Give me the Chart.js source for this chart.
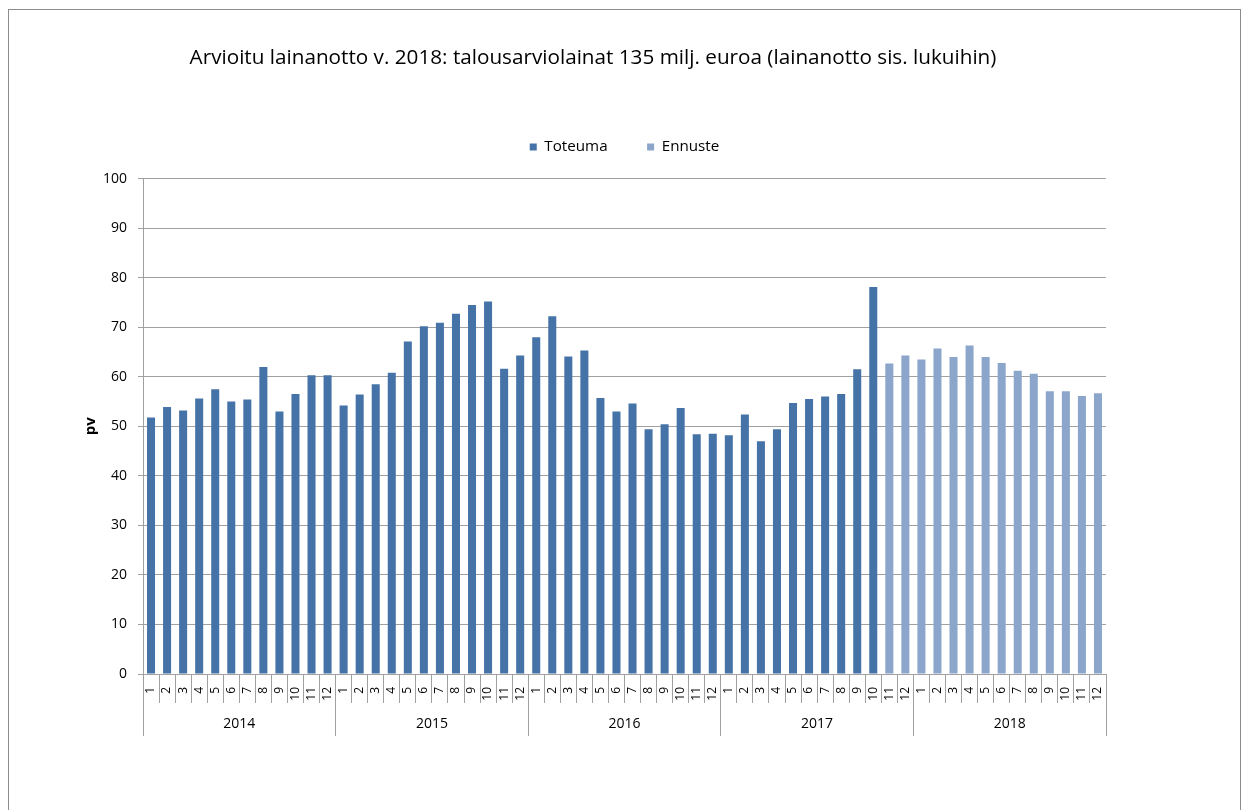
<!DOCTYPE html>
<html>
<head>
<meta charset="utf-8">
<script src="https://cdn.jsdelivr.net/npm/chart.js@4"></script>
<style>
  body { margin: 0; background: #fff; }
  #wrap { position: relative; width: 1241px; height: 810px; overflow: hidden; }
  #frame { position: absolute; left: 8px; top: 9px; width: 1231px; height: 830px; border: 1px solid #8c8c8c; }
</style>
</head>
<body>
<div id="wrap">
  <div id="frame"></div>
  <canvas id="myChart"></canvas>
</div>
<script>
// chart data
const years = ['2014', '2015', '2016', '2017', '2018'];
const months = ['1', '2', '3', '4', '5', '6', '7', '8', '9', '10', '11', '12'];

// Toteuma: 2014/1 .. 2017/10
const toteuma = [
  51.8, 53.9, 53.2, 55.6, 57.5, 55.0, 55.4, 62.0, 53.0, 56.5, 60.3, 60.3,
  54.2, 56.4, 58.5, 60.8, 67.1, 70.2, 70.9, 72.7, 74.5, 75.2, 61.6, 64.3,
  68.0, 72.2, 64.1, 65.3, 55.7, 53.0, 54.6, 49.4, 50.4, 53.7, 48.4, 48.5,
  48.2, 52.4, 47.0, 49.4, 54.7, 55.5, 56.0, 56.5, 61.5, 78.1
];
// Ennuste: 2017/11 .. 2018/12
const ennuste = [
  62.7, 64.3,
  63.5, 65.7, 64.0, 66.3, 64.0, 62.8, 61.2, 60.6, 57.1, 57.1, 56.1, 56.7
];

const yTicks = { min: 0, max: 100, step: 10 };

const xlabels = years.flatMap(() => months);
const toteumaData = toteuma.concat(new Array(xlabels.length - toteuma.length).fill(null));
const ennusteData = new Array(xlabels.length - ennuste.length).fill(null).concat(ennuste);

const gridColor = '#a0a0a0';
Chart.defaults.font.family = '"Open Sans"';
Chart.defaults.color = '#000';

// extra room under the legend
const legendMargin = {
  id: 'legendMargin',
  beforeInit(chart) {
    const fit = chart.legend.fit;
    chart.legend.fit = function () {
      fit.bind(chart.legend)();
      this.height += 14;
    };
  }
};

const ctx = document.getElementById('myChart').getContext('2d');
const myChart = new Chart(ctx, {
  type: 'bar',
  data: {
    labels: xlabels,
    datasets: [{
      label: 'Toteuma',
      data: toteumaData,
      backgroundColor: '#4673a7',
      categoryPercentage: 1,
      barPercentage: 0.5
    }, {
      label: 'Ennuste',
      data: ennusteData,
      backgroundColor: '#8ca6cb',
      categoryPercentage: 1,
      barPercentage: 0.5
    }]
  },
  plugins: [legendMargin],
  options: {
    responsive: true,
    maintainAspectRatio: false,
    animation: false,
    layout: { padding: { left: 80, right: 135, top: 0, bottom: 67 } },
    plugins: {
      title: {
        display: true,
        text: 'Arvioitu lainanotto v. 2018: talousarviolainat 135 milj. euroa (lainanotto sis. lukuihin)',
        font: { size: 20.7, weight: 'normal' },
        color: '#000',
        padding: { top: 45.6, bottom: 29.5 }
      },
      legend: {
        position: 'top',
        fullSize: false,
        labels: { boxWidth: 7, boxHeight: 7, padding: 39.5, font: { size: 15.2 }, color: '#000' }
      },
      tooltip: { enabled: false }
    },
    scales: {
      x: {
        stacked: true,
        offset: true,
        grid: { offset: true, drawOnChartArea: false, tickLength: 29, color: gridColor },
        border: { color: gridColor },
        ticks: { autoSkip: false, minRotation: 90, maxRotation: 90, padding: -16, font: { size: 12 } },
        afterFit: (scale) => { scale.height = 29; }
      },
      x2: {
        type: 'category',
        labels: years,
        position: 'bottom',
        weight: 1,
        offset: true,
        grid: { offset: true, drawOnChartArea: false, tickLength: 33, color: gridColor },
        border: { display: false },
        ticks: { autoSkip: false, maxRotation: 0, padding: -20, font: { size: 14 } },
        afterFit: (scale) => { scale.height = 40; }
      },
      y: {
        stacked: true,
        min: yTicks.min,
        max: yTicks.max,
        grid: { color: gridColor, tickLength: 5 },
        border: { color: gridColor },
        ticks: { stepSize: yTicks.step, padding: 11, font: { size: 14 } },
        title: { display: true, text: 'pv', font: { size: 15, weight: 'bold' }, padding: { top: 2, bottom: 2 } },
        afterFit: (scale) => { scale.width = 63; }
      }
    }
  }
});
</script>
</body>
</html>
